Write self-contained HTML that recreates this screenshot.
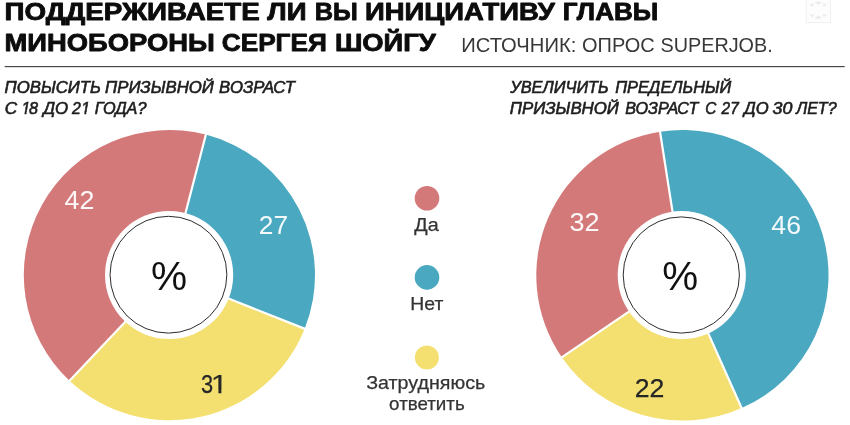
<!DOCTYPE html>
<html lang="ru">
<head>
<meta charset="utf-8">
<title>Опрос</title>
<style>
html,body{margin:0;padding:0;background:#fff;}
body{width:850px;height:425px;overflow:hidden;position:relative;font-family:"Liberation Sans",sans-serif;}
svg{position:absolute;left:0;top:0;display:block;}
text{font-family:"Liberation Sans",sans-serif;}
.t{font-weight:bold;font-size:24.6px;fill:#0c0c0c;stroke:#0c0c0c;stroke-width:0.85px;stroke-linejoin:round;}
.src{font-size:20.2px;fill:#383838;}
.sub{font-style:italic;font-size:16.05px;fill:#1e1e1e;stroke:#1e1e1e;stroke-width:0.6px;}
.num{font-size:25.2px;stroke-width:0.25px;}
.w{fill:#fff;stroke:none;fill-opacity:0.94;}
.k{fill:#262626;stroke:#262626;}
.pct{font-size:41.5px;fill:#111;}
.lg{font-size:17.8px;fill:#333;stroke:#333;stroke-width:0.25px;}
</style>
</head>
<body>
<svg width="850" height="425" viewBox="0 0 850 425">
<rect x="-10" y="-10" width="870" height="445" fill="#fff"/>
<g style="filter:blur(0.5px)">
<rect x="-10" y="-10" width="870" height="445" fill="#fff"/>
<text class="t" y="19.8"><tspan x="4.55" textLength="255.3" lengthAdjust="spacingAndGlyphs">ПОДДЕРЖИВАЕТЕ</tspan> <tspan x="267.25" textLength="39.23" lengthAdjust="spacingAndGlyphs">ЛИ</tspan> <tspan x="314.73" textLength="43.03" lengthAdjust="spacingAndGlyphs">ВЫ</tspan> <tspan x="364.91" textLength="189.85" lengthAdjust="spacingAndGlyphs">ИНИЦИАТИВУ</tspan> <tspan x="562.74" textLength="95.51" lengthAdjust="spacingAndGlyphs">ГЛАВЫ</tspan></text>
<text class="t" y="50.85"><tspan x="4.55" textLength="210.21" lengthAdjust="spacingAndGlyphs">МИНОБОРОНЫ</tspan> <tspan x="221.75" textLength="105.0" lengthAdjust="spacingAndGlyphs">СЕРГЕЯ</tspan> <tspan x="334.92" textLength="100.84" lengthAdjust="spacingAndGlyphs">ШОЙГУ</tspan></text>
<text class="src" y="51.7"><tspan x="461.23" textLength="115.05" lengthAdjust="spacingAndGlyphs">ИСТОЧНИК:</tspan> <tspan x="582.0" textLength="72.74" lengthAdjust="spacingAndGlyphs">ОПРОС</tspan> <tspan x="660.49" textLength="112.27" lengthAdjust="spacingAndGlyphs">SUPERJOB.</tspan></text>
<rect x="4.7" y="66" width="840" height="1.2" fill="#454a46"/>
<text class="sub" y="92.5"><tspan x="4.6" textLength="96.34" lengthAdjust="spacingAndGlyphs">ПОВЫСИТЬ</tspan> <tspan x="105.1" textLength="108.66" lengthAdjust="spacingAndGlyphs">ПРИЗЫВНОЙ</tspan> <tspan x="219.11" textLength="75.84" lengthAdjust="spacingAndGlyphs">ВОЗРАСТ</tspan></text>
<text class="sub" y="113.95"><tspan x="4.69" textLength="12.38" lengthAdjust="spacingAndGlyphs">С</tspan> <tspan x="21.42" textLength="8.83" lengthAdjust="spacingAndGlyphs">1</tspan><tspan x="28.97" textLength="9.01" lengthAdjust="spacingAndGlyphs">8</tspan> <tspan x="43.29" textLength="24.9" lengthAdjust="spacingAndGlyphs">ДО</tspan> <tspan x="72.06" textLength="8.79" lengthAdjust="spacingAndGlyphs">2</tspan><tspan x="81.22" textLength="8.83" lengthAdjust="spacingAndGlyphs">1</tspan> <tspan x="94.8" textLength="51.61" lengthAdjust="spacingAndGlyphs">ГОДА?</tspan></text>
<path d="M21.2 111.9H24.55V115.8H21.2ZM26.55 111.9H29.1V115.8H26.55ZM81 111.9H84.35V115.8H81ZM86.35 111.9H89.2V115.8H86.35Z" fill="#fff"/>
<text class="sub" y="92.5"><tspan x="510.25" textLength="98.49" lengthAdjust="spacingAndGlyphs">УВЕЛИЧИТЬ</tspan> <tspan x="615.15" textLength="116.1" lengthAdjust="spacingAndGlyphs">ПРЕДЕЛЬНЫЙ</tspan></text>
<text class="sub" y="113.95"><tspan x="509.75" textLength="109.1" lengthAdjust="spacingAndGlyphs">ПРИЗЫВНОЙ</tspan> <tspan x="625.15" textLength="73.11" lengthAdjust="spacingAndGlyphs">ВОЗРАСТ</tspan> <tspan x="705.19" textLength="11.07" lengthAdjust="spacingAndGlyphs">С</tspan> <tspan x="721.6" textLength="17.08" lengthAdjust="spacingAndGlyphs">27</tspan> <tspan x="744.11" textLength="24.61" lengthAdjust="spacingAndGlyphs">ДО</tspan> <tspan x="772.5" textLength="19.81" lengthAdjust="spacingAndGlyphs">30</tspan> <tspan x="796.15" textLength="40.43" lengthAdjust="spacingAndGlyphs">ЛЕТ?</tspan></text>
<g>
<rect x="806.2" y="-1" width="24.2" height="23.6" fill="#fdfdfd" stroke="#f0f0f0" stroke-width="1"/>
<path d="M809.5 5.5l3-2.5 2 3.500zM827 5.500l-3-2.500-2 3.500zM809.500 15l3 2.500 2-3.500zM827 15l-3 2.500-2-3.500zM814.500 2.500q3.800-2 7.600 0l-3.800 2.500zM814.500 18q3.800 2 7.600 0l-3.800-2.500z" fill="#ececec"/>
</g>
<g>
<g transform="translate(169.4 275.1) scale(1 0.9966)">
<path d="M36.46 -140.96A145.6 145.6 0 0 1 135.28 53.84L53.98 21.48A58.1 58.1 0 0 0 14.55 -56.25Z" fill="#4aa8c0"/>
<path d="M135.28 53.84A145.6 145.6 0 0 1 -99.86 105.96L-39.85 42.28A58.1 58.1 0 0 0 53.98 21.48Z" fill="#f4e071"/>
<path d="M-99.86 105.96A145.6 145.6 0 0 1 36.46 -140.96L14.55 -56.25A58.1 58.1 0 0 0 -39.85 42.28Z" fill="#d47979"/>
<line x1="14.55" y1="-56.25" x2="36.71" y2="-141.93" stroke="#fff" stroke-width="2.2"/>
<line x1="53.98" y1="21.48" x2="136.21" y2="54.20" stroke="#fff" stroke-width="2.2"/>
<line x1="-39.85" y1="42.28" x2="-100.54" y2="106.69" stroke="#fff" stroke-width="2.2"/>
</g>
<circle cx="169.1" cy="275.0" r="64.1" fill="#fff"/>
<circle cx="168.45" cy="274.7" r="58.4" fill="none" stroke="#2c2c2c" stroke-width="1"/>
<text class="pct" y="289.7"><tspan x="151.02" textLength="36.11" lengthAdjust="spacingAndGlyphs">%</tspan></text>
<text class="num w" y="208.9"><tspan x="64.55" textLength="29.83" lengthAdjust="spacingAndGlyphs">42</tspan></text>
<text class="num w" y="234.2"><tspan x="258.78" textLength="29.34" lengthAdjust="spacingAndGlyphs">27</tspan></text>
<text class="num k" y="392.5"><tspan x="200.93" textLength="12.15" lengthAdjust="spacingAndGlyphs">3</tspan><tspan x="211.05" textLength="16.67" lengthAdjust="spacingAndGlyphs">1</tspan></text>
<path d="M212.9 390.3H218.4V395H212.9ZM221.4 390.3H227.2V395H221.4Z" fill="#f4e071"/>
</g>
<g>
<g transform="translate(682.4 275.3) scale(1 0.9945)">
<path d="M-22.35 -144.38A146.1 146.1 0 0 1 59.24 133.55L23.56 53.11A58.1 58.1 0 0 0 -8.89 -57.42Z" fill="#4aa8c0"/>
<path d="M59.24 133.55A146.1 146.1 0 0 1 -120.61 82.46L-47.96 32.79A58.1 58.1 0 0 0 23.56 53.11Z" fill="#f4e071"/>
<path d="M-120.61 82.46A146.1 146.1 0 0 1 -22.35 -144.38L-8.89 -57.42A58.1 58.1 0 0 0 -47.96 32.79Z" fill="#d47979"/>
<line x1="-8.89" y1="-57.42" x2="-22.50" y2="-145.37" stroke="#fff" stroke-width="2.2"/>
<line x1="23.56" y1="53.11" x2="59.64" y2="134.47" stroke="#fff" stroke-width="2.2"/>
<line x1="-47.96" y1="32.79" x2="-121.43" y2="83.02" stroke="#fff" stroke-width="2.2"/>
</g>
<circle cx="681.8" cy="275.1" r="64.1" fill="#fff"/>
<circle cx="681.3" cy="275.0" r="58.1" fill="none" stroke="#2c2c2c" stroke-width="1"/>
<text class="pct" y="289.7"><tspan x="662.16" textLength="35.88" lengthAdjust="spacingAndGlyphs">%</tspan></text>
<text class="num w" y="231.3"><tspan x="569.49" textLength="30.06" lengthAdjust="spacingAndGlyphs">32</tspan></text>
<text class="num w" y="234.4"><tspan x="771.35" textLength="29.68" lengthAdjust="spacingAndGlyphs">46</tspan></text>
<text class="num k" y="397"><tspan x="634.73" textLength="29.69" lengthAdjust="spacingAndGlyphs">22</tspan></text>
</g>
<circle cx="427" cy="198.2" r="12.3" fill="#d47979"/>
<text class="lg" y="230.6"><tspan x="414.31" textLength="24.35" lengthAdjust="spacingAndGlyphs">Да</tspan></text>
<circle cx="427" cy="277.4" r="12.3" fill="#4aa8c0"/>
<text class="lg" y="309.5"><tspan x="410.37" textLength="33.03" lengthAdjust="spacingAndGlyphs">Нет</tspan></text>
<circle cx="426.9" cy="357.4" r="12" fill="#f4e071"/>
<text class="lg" y="388.6"><tspan x="366.15" textLength="119.09" lengthAdjust="spacingAndGlyphs">Затрудняюсь</tspan></text>
<text class="lg" y="409.9"><tspan x="389.11" textLength="75.59" lengthAdjust="spacingAndGlyphs">ответить</tspan></text>
</g>
</svg>
</body>
</html>
